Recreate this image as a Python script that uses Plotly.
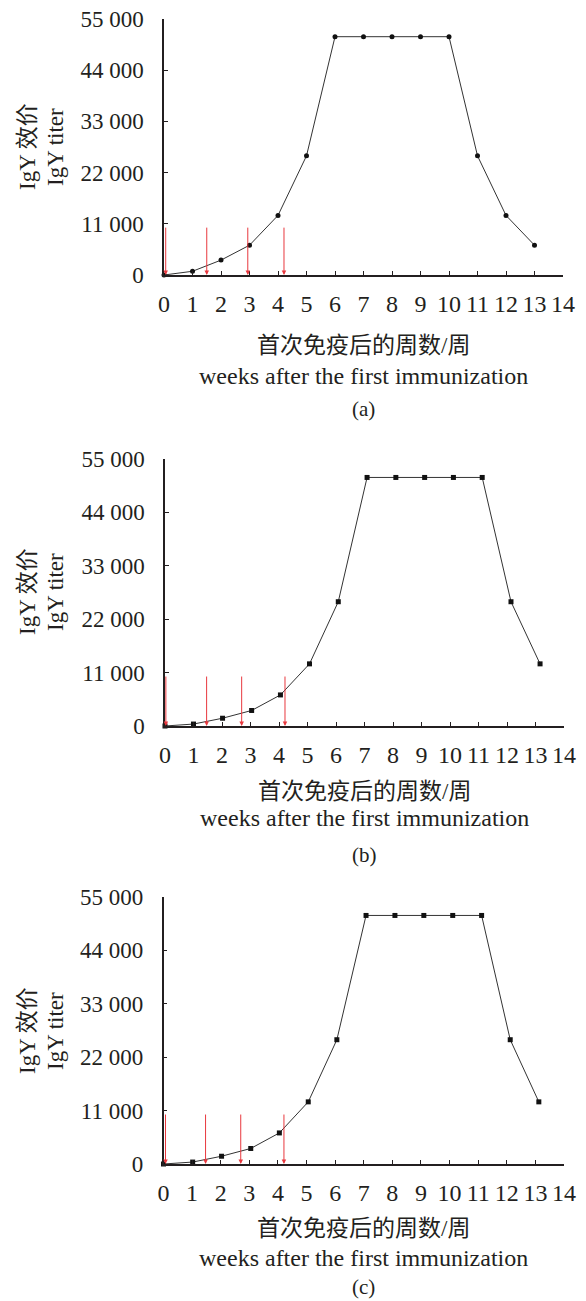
import plotly.graph_objects as go

# ---------------- data ----------------
weeks_a = [0, 1, 2, 3, 4, 5, 6, 7, 8, 9, 10, 11, 12, 13]
titer_a = [0, 800, 3200, 6400, 12800, 25600, 51200, 51200, 51200, 51200, 51200, 25600, 12800, 6400]

weeks_b = [0, 1.0, 2.02, 3.04, 4.05, 5.07, 6.08, 7.09, 8.1, 9.11, 10.12, 11.13, 12.14, 13.16]
titer_b = [0, 400, 1600, 3200, 6400, 12800, 25600, 51200, 51200, 51200, 51200, 51200, 25600, 12800]

weeks_c = [0, 1.02, 2.03, 3.05, 4.05, 5.06, 6.06, 7.08, 8.09, 9.1, 10.11, 11.12, 12.12, 13.12]
titer_c = [0, 400, 1600, 3200, 6400, 12800, 25600, 51200, 51200, 51200, 51200, 51200, 25600, 12800]

arrows_a = [0.06, 1.5, 2.94, 4.21]
arrows_b = [0.03, 1.46, 2.69, 4.21]
arrows_c = [0.07, 1.47, 2.7, 4.21]
arrow_top = 10500

x_ticks = list(range(0, 15))
y_tickvals = [0, 11000, 22000, 33000, 44000, 55000]
y_ticktext = ["0", "11 000", "22 000", "33 000", "44 000", "55 000"]

x_title_cn = "首次免疫后的周数/周"
x_title_en = "weeks after the first immunization"
y_title_cn = "IgY 效价"
y_title_en = "IgY titer"
captions = ["(a)", "(b)", "(c)"]

# ---------------- layout helpers ----------------
W, H = 586, 1301
FONT = "Liberation Serif, Times New Roman, Noto Sans CJK SC, serif"
INK = "#231f20"


def px(x):
    return x / W


def py(y):
    return 1 - y / H


panels = [
    dict(x0=164, x1=563, yb=275, yt=19, weeks=weeks_a, titer=titer_a, arrows=arrows_a,
         marker="circle", msize=5, cn_y=345, en_y=376, cap_y=409, ytitle_y=147),
    dict(x0=165, x1=564, yb=726, yt=459, weeks=weeks_b, titer=titer_b, arrows=arrows_b,
         marker="square", msize=5, cn_y=791, en_y=818, cap_y=855, ytitle_y=592),
    dict(x0=163.5, x1=564, yb=1164, yt=897, weeks=weeks_c, titer=titer_c, arrows=arrows_c,
         marker="square", msize=5, cn_y=1228, en_y=1258, cap_y=1287, ytitle_y=1031),
]

fig = go.Figure()
annotations = []
layout_axes = {}

for i, p in enumerate(panels):
    n = "" if i == 0 else str(i + 1)
    xa, ya = "x" + n, "y" + n
    fig.add_trace(go.Scatter(
        x=p["weeks"], y=p["titer"], xaxis=xa, yaxis=ya, mode="lines+markers",
        line=dict(color="#333333", width=1),
        marker=dict(symbol=p["marker"], size=p["msize"], color="#111111"),
        showlegend=False, cliponaxis=False,
    ))
    layout_axes["xaxis" + n] = dict(
        domain=[px(p["x0"]), px(p["x1"])], range=[0, 14], anchor=ya,
        tickvals=x_ticks, ticks="inside", ticklen=4, tickcolor=INK, tickwidth=1,
        showline=True, linecolor=INK, linewidth=1.5, showgrid=False, zeroline=False,
        tickfont=dict(family=FONT, size=24, color=INK), ticklabelstandoff=6,
        fixedrange=True, automargin=False,
    )
    layout_axes["yaxis" + n] = dict(
        domain=[py(p["yb"]), py(p["yt"])], range=[0, 55000], anchor=xa,
        tickvals=y_tickvals, ticktext=y_ticktext, ticks="inside", ticklen=4,
        tickcolor=INK, tickwidth=1, showline=True, linecolor=INK, linewidth=1.5,
        showgrid=False, zeroline=False,
        tickfont=dict(family=FONT, size=23, color=INK), ticklabelstandoff=14,
        fixedrange=True, automargin=False,
    )
    for aw in p["arrows"]:
        annotations.append(dict(
            x=aw, y=0, ax=aw, ay=arrow_top, xref=xa, yref=ya, axref=xa, ayref=ya,
            showarrow=True, arrowhead=2, arrowsize=0.9, arrowwidth=1,
            arrowcolor="#e8383e", standoff=0, text="",
        ))
    xc = px((p["x0"] + p["x1"]) / 2)
    annotations += [
        dict(text=x_title_cn, x=xc, y=py(p["cn_y"]), xref="paper", yref="paper",
             showarrow=False, xanchor="center", yanchor="middle",
             font=dict(family=FONT, size=23, color=INK)),
        dict(text=x_title_en, x=xc, y=py(p["en_y"]), xref="paper", yref="paper",
             showarrow=False, xanchor="center", yanchor="middle",
             font=dict(family=FONT, size=24, color=INK)),
        dict(text=captions[i], x=xc, y=py(p["cap_y"]), xref="paper", yref="paper",
             showarrow=False, xanchor="center", yanchor="middle",
             font=dict(family=FONT, size=21, color=INK)),
        dict(text=y_title_cn, x=px(27), y=py(p["ytitle_y"]), xref="paper", yref="paper",
             showarrow=False, xanchor="center", yanchor="middle", textangle=-90,
             font=dict(family=FONT, size=23, color=INK)),
        dict(text=y_title_en, x=px(55), y=py(p["ytitle_y"]), xref="paper", yref="paper",
             showarrow=False, xanchor="center", yanchor="middle", textangle=-90,
             font=dict(family=FONT, size=23, color=INK)),
    ]

fig.update_layout(
    width=W, height=H, margin=dict(l=0, r=0, t=0, b=0, pad=0, autoexpand=False),
    paper_bgcolor="white", plot_bgcolor="white",
    annotations=annotations, **layout_axes,
)

post = (
    "document.documentElement.style.margin='0';"
    "document.documentElement.style.overflow='hidden';"
    "document.body.style.margin='0';"
    "document.body.style.overflow='hidden';"
)

fig.write_html("out.html", config={"displayModeBar": False}, post_script=post)
